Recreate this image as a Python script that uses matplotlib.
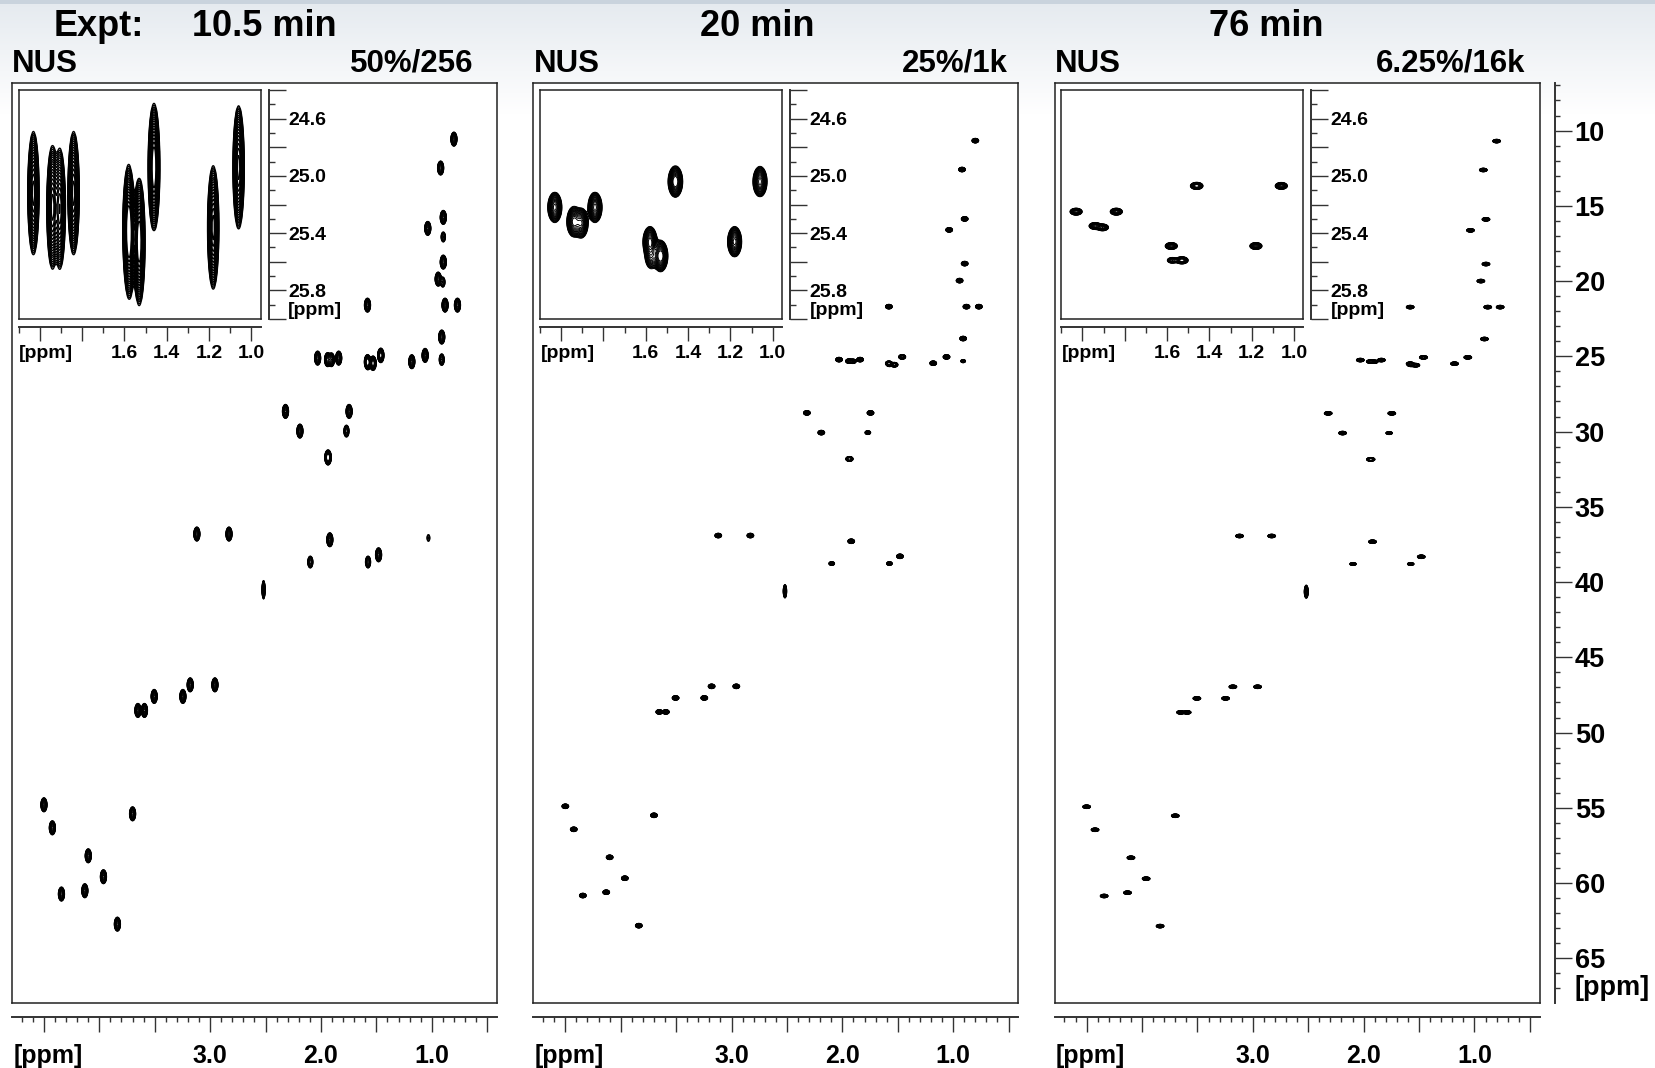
import matplotlib

matplotlib.use("Agg")
import matplotlib.pyplot as plt
import numpy as np
from matplotlib.ticker import FuncFormatter, MultipleLocator
from matplotlib.transforms import blended_transform_factory, offset_copy

plt.rcParams["font.family"] = ["Liberation Sans", "DejaVu Sans"]
plt.rcParams["font.weight"] = "bold"

W, H, DPI = 1655, 1068, 100

# cross peaks of the HSQC: 1H shift, 13C shift, relative height
peak_h = [0.80, 0.92, 0.896, 1.036, 0.896, 0.942, 0.88, 0.768, 1.58, 0.91,
          2.03, 1.94, 1.905, 1.84, 1.46, 1.06, 1.58, 1.53, 1.575, 1.18,
          2.32, 1.746, 2.19, 1.77, 1.936, 3.12, 2.83, 1.92, 2.096, 1.575, 1.48,
          3.18, 2.957, 3.505, 3.246, 3.652, 3.593,
          4.50, 3.70, 4.424, 4.10, 3.963, 4.342, 4.131, 3.837]
peak_c = [10.70, 12.62, 15.90, 16.63, 18.87, 20.00, 21.73, 21.73, 21.73, 23.85,
          25.25, 25.35, 25.36, 25.25, 25.07, 25.07, 25.49, 25.59, 25.59, 25.49,
          28.79, 28.79, 30.10, 30.10, 31.85, 36.94, 36.94, 37.32, 38.80, 38.80, 38.32,
          46.96, 46.96, 47.73, 47.73, 48.66, 48.66,
          54.93, 55.53, 56.46, 58.32, 59.71, 60.86, 60.64, 62.86]
peak_amp = [1.0, 1.0, 1.0, 1.0, 1.0, 1.0, 1.0, 1.0, 1.0, 1.0,
            1.0, 1.0, 0.9, 1.0, 1.2, 1.0, 1.0, 1.2, 0.45, 1.0,
            1.0, 1.0, 1.0, 0.5, 1.5, 1.0, 1.0, 1.0, 0.5, 0.5, 1.0,
            1.0, 1.0, 1.0, 1.0, 1.0, 1.0,
            1.0, 1.0, 1.0, 1.0, 1.0, 1.0, 1.0, 1.0]

# peak with extra 13C broadening (ppm) and a narrower 1H line
broad_h = [2.518]
broad_c = [40.64]
broad_amp = [0.8]
broad_extra = [0.2]
broad_xscale = [0.55]

# weak signals / artefacts that only survive in some reconstructions
weak_h = [[0.91, 0.896, 0.90, 1.03], [0.91], []]
weak_c = [[25.35, 17.2, 20.2, 37.2], [25.35], []]
weak_amp = [[0.45, 0.3, 0.3, 0.15], [0.3], []]

expt_time = ["10.5 min", "20 min", "76 min"]
nus_scheme = ["50%/256", "25%/1k", "6.25%/16k"]
c_offset = [-0.13, -0.03, 0.0]  # F1 referencing of each data set

# line widths (ppm) of the processed spectra: main view / zoomed view
sig_main_x = [0.013, 0.014, 0.016]
sig_main_y = [0.21, 0.07, 0.055]
sig_zoom_x = [0.012, 0.015, 0.013]
sig_zoom_y = [0.19, 0.047, 0.011]
zoom_lw = [0.95, 0.7, 0.6]

MAIN_X = (4.79, 0.413)
MAIN_Y = (67.95, 6.86)
ZOOM_X = (2.10, 0.956)
ZOOM_Y = (26.0, 24.4)
LEVELS = np.geomspace(0.08, 0.9, 18)

PANEL_LEFT = [11.8, 533.2, 1054.5]
NUS_RIGHT = [473.2, 1007.5, 1525.5]
TIME_CENTRE = [264.6, 757.3, 1266.0]
BOX_W = 485.0


def frac(x0, y0, x1, y1):
    """pixel box (top-left origin) -> figure fraction rect"""
    return [x0 / W, 1 - y1 / H, (x1 - x0) / W, (y1 - y0) / H]


def grid(lim, step):
    lo, hi = min(lim), max(lim)
    n = min(int(np.ceil((hi - lo) / step)) + 1, 5000)
    return np.linspace(lo, hi, n)


def draw_peaks(ax, hs, cs, amps, extra, xscale, xlim, ylim, sx, sy, lw):
    sx_k = sx * xscale
    sy_k = np.sqrt(sy ** 2 + extra ** 2)
    x = grid(xlim, sx_k.min() / 3)
    y = grid(ylim, sy / 3)
    gx = np.exp(-0.5 * ((x[None, :] - hs[:, None]) / sx_k[:, None]) ** 2)
    gy = np.exp(-0.5 * ((y[:, None] - cs[None, :]) / sy_k[None, :]) ** 2)
    z = gy @ (amps[:, None] * gx)
    ax.contour(x, y, z, levels=LEVELS, colors="black", linewidths=lw)
    ax.set_xlim(xlim)
    ax.set_ylim(ylim)
    ax.set_xticks([])
    ax.set_yticks([])
    for s in ax.spines.values():
        s.set_linewidth(1.1)
        s.set_color("#222222")


def label_fmt(labelled, digits):
    def f(v, _):
        if any(abs(v - l) < 1e-6 for l in labelled):
            return f"{v:.{digits}f}"
        return ""
    return FuncFormatter(f)


def ruler_x(rect, xlim, major, minor, labelled, fs, maj_len, min_len, pad):
    ax = fig.add_axes(rect)
    ax.set_facecolor("none")
    for s in ("top", "left", "right"):
        ax.spines[s].set_visible(False)
    ax.spines["bottom"].set_linewidth(1.4)
    ax.spines["bottom"].set_color("#333333")
    ax.set_xlim(xlim)
    ax.set_yticks([])
    ax.xaxis.set_major_locator(MultipleLocator(major))
    ax.xaxis.set_minor_locator(MultipleLocator(minor))
    ax.xaxis.set_major_formatter(label_fmt(labelled, 1))
    ax.tick_params(which="major", length=maj_len, width=1.0, labelsize=fs, pad=pad, color="#333333")
    ax.tick_params(which="minor", length=min_len, width=1.0, color="#333333")
    off = offset_copy(ax.transAxes, fig=fig, y=-(maj_len + pad), units="points")
    ax.text(0.003, 0, "[ppm]", transform=off, ha="left", va="top", fontsize=fs, fontweight="bold")
    return ax


def ruler_y(rect, ylim, major, minor, labelled, digits, fs, maj_len, min_len, pad, ppm_at):
    ax = fig.add_axes(rect)
    ax.set_facecolor("none")
    for s in ("top", "left", "bottom"):
        ax.spines[s].set_visible(False)
    ax.spines["right"].set_linewidth(1.4)
    ax.spines["right"].set_color("#333333")
    ax.set_ylim(ylim)
    ax.set_xticks([])
    ax.yaxis.tick_right()
    ax.yaxis.set_major_locator(MultipleLocator(major))
    ax.yaxis.set_minor_locator(MultipleLocator(minor))
    ax.yaxis.set_major_formatter(label_fmt(labelled, digits))
    ax.tick_params(which="major", length=maj_len, width=1.0, labelsize=fs, pad=pad, color="#333333")
    ax.tick_params(which="minor", length=min_len, width=1.0, color="#333333")
    tr = blended_transform_factory(ax.transAxes, ax.transData)
    off = offset_copy(tr, fig=fig, x=maj_len + pad, units="points")
    ax.text(1, ppm_at, "[ppm]", transform=off, ha="left", va="center", fontsize=fs, fontweight="bold")
    return ax


fig = plt.figure(figsize=(W / DPI, H / DPI), dpi=DPI)

# slide backdrop: grey strip at the top fading into white
bg = fig.add_axes([0, 0, 1, 1], zorder=-10)
rows = np.arange(H)
shade = np.clip((rows - 4) / 110.0, 0, 1)
top = np.array([0.90, 0.92, 0.94])
col = top[None, :] + (1 - top[None, :]) * shade[:, None]
col[:4] = [0.79, 0.83, 0.87]
bg.imshow(col[:, None, :], aspect="auto", extent=[0, 1, 0, 1])
bg.axis("off")

for i, left in enumerate(PANEL_LEFT):
    hs = np.array(peak_h + broad_h + weak_h[i])
    cs = np.array(peak_c + broad_c + weak_c[i]) + c_offset[i]
    amps = np.array(peak_amp + broad_amp + weak_amp[i])
    extra = np.zeros(len(hs))
    xscale = np.ones(len(hs))
    nb = slice(len(peak_h), len(peak_h) + len(broad_h))
    extra[nb] = broad_extra
    xscale[nb] = broad_xscale

    ax = fig.add_axes(frac(left, 83.3, left + BOX_W, 1002.7))
    draw_peaks(ax, hs, cs, amps, extra, xscale, MAIN_X, MAIN_Y,
               sig_main_x[i], sig_main_y[i], 0.6)

    zl = left + 6.8
    axz = fig.add_axes(frac(zl, 90.0, zl + 242.0, 319.0))
    draw_peaks(axz, hs, cs, amps, extra, xscale, ZOOM_X, ZOOM_Y,
               sig_zoom_x[i], sig_zoom_y[i], zoom_lw[i])

    ruler_x(frac(zl, 326.3, zl + 242.0, 327.3), ZOOM_X, 0.2, 0.1,
            [1.0, 1.2, 1.4, 1.6], 14, 10.3, 4.3, 2.5)
    ruler_y(frac(left + 255.8, 90.0, left + 256.8, 319.0), ZOOM_Y, 0.2, 0.1,
            [24.6, 25.0, 25.4, 25.8], 1, 14, 12.0, 4.0, 2.0, 25.94)
    ruler_x(frac(left, 1016.3, left + BOX_W, 1017.3), MAIN_X, 0.5, 0.1,
            [1.0, 2.0, 3.0], 18, 11.0, 3.8, 8.5)

    fig.text((left + 0.5) / W, 1 - 64 / H, "NUS", ha="left", va="center", fontsize=22.5, fontweight="bold")
    fig.text(NUS_RIGHT[i] / W, 1 - 64 / H, nus_scheme[i], ha="right", va="center",
             fontsize=22.5, fontweight="bold")
    fig.text(TIME_CENTRE[i] / W, 1 - 27 / H, expt_time[i], ha="center", va="center",
             fontsize=26, fontweight="bold")

fig.text(53.6 / W, 1 - 27 / H, "Expt:", ha="left", va="center", fontsize=26, fontweight="bold")

# shared 13C axis on the far right
ruler_y(frac(1554.3, 83.3, 1555.3, 1002.7), MAIN_Y, 5, 1,
        list(range(10, 70, 5)), 0, 19.5, 12.5, 3.4, 1.5, 67.0)

fig.savefig("out.png", dpi=DPI)
